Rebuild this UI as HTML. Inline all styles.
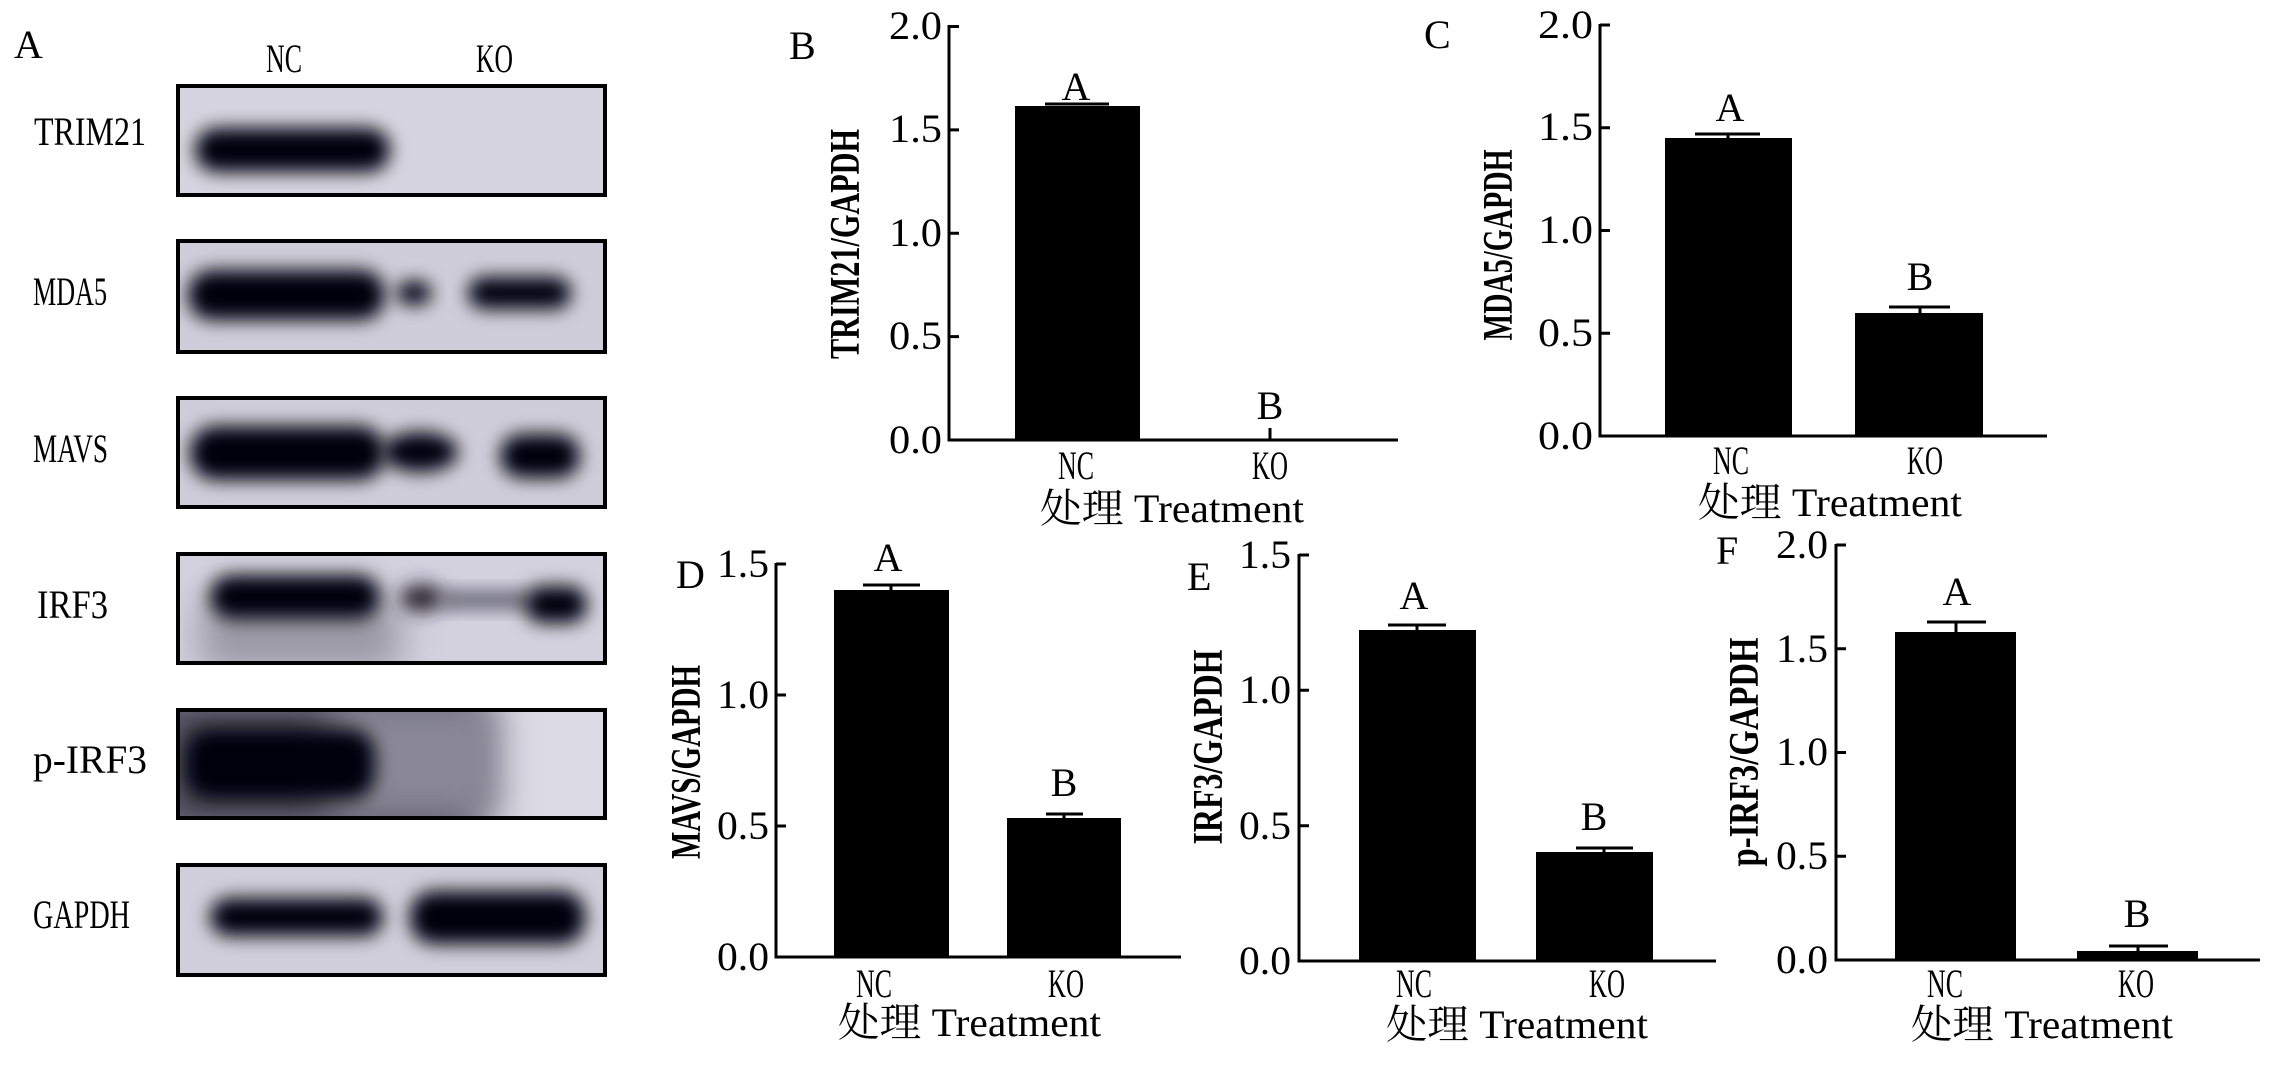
<!DOCTYPE html>
<html><head><meta charset="utf-8"><style>html,body{margin:0;padding:0;background:#fff}svg{display:block}</style></head>
<body>
<svg width="2276" height="1067" viewBox="0 0 2276 1067" xmlns="http://www.w3.org/2000/svg" font-family="'Liberation Serif','Noto Serif CJK SC',serif">
<defs>
<filter id="bl" x="-40%" y="-80%" width="180%" height="260%"><feGaussianBlur stdDeviation="9"/></filter>
<filter id="bl2" x="-30%" y="-60%" width="160%" height="220%"><feGaussianBlur stdDeviation="18"/></filter>
<clipPath id="c1"><rect x="178" y="86" width="427" height="109"/></clipPath>
<clipPath id="c2"><rect x="178" y="241" width="427" height="111"/></clipPath>
<clipPath id="c3"><rect x="178" y="398" width="427" height="109"/></clipPath>
<clipPath id="c4"><rect x="178" y="554" width="427" height="109"/></clipPath>
<clipPath id="c5"><rect x="178" y="710" width="427" height="108"/></clipPath>
<clipPath id="c6"><rect x="178" y="865" width="427" height="110"/></clipPath>
</defs>
<rect width="2276" height="1067" fill="#fff"/>

<!-- Panel A -->
<g font-size="40">
<text x="14" y="58">A</text>
<text x="266" y="72" textLength="36" lengthAdjust="spacingAndGlyphs">NC</text>
<text x="476" y="72" textLength="37" lengthAdjust="spacingAndGlyphs">KO</text>
<text x="34" y="145" textLength="112" lengthAdjust="spacingAndGlyphs">TRIM21</text>
<text x="33" y="305" textLength="74" lengthAdjust="spacingAndGlyphs">MDA5</text>
<text x="33" y="462" textLength="75" lengthAdjust="spacingAndGlyphs">MAVS</text>
<text x="37" y="618" textLength="71" lengthAdjust="spacingAndGlyphs">IRF3</text>
<text x="33" y="773" textLength="114" lengthAdjust="spacingAndGlyphs">p-IRF3</text>
<text x="33" y="928" textLength="97" lengthAdjust="spacingAndGlyphs">GAPDH</text>
</g>

<g clip-path="url(#c1)"><rect x="178" y="86" width="427" height="109" fill="#d6d4e0"/>
<rect x="195" y="128" width="195" height="44" rx="22" fill="#050308" filter="url(#bl)"/></g>
<rect x="178" y="86" width="427" height="109" fill="none" stroke="#000" stroke-width="4"/>

<g clip-path="url(#c2)"><rect x="178" y="241" width="427" height="111" fill="#cfcdda"/>
<rect x="188" y="270" width="197" height="50" rx="24" fill="#050308" filter="url(#bl)"/>
<ellipse cx="414" cy="293" rx="18" ry="12" fill="#050308" filter="url(#bl)"/>
<rect x="468" y="277" width="103" height="32" rx="16" fill="#050308" filter="url(#bl)"/></g>
<rect x="178" y="241" width="427" height="111" fill="none" stroke="#000" stroke-width="4"/>

<g clip-path="url(#c3)"><rect x="178" y="398" width="427" height="109" fill="#cfcdda"/>
<rect x="190" y="426" width="195" height="54" rx="26" fill="#050308" filter="url(#bl)"/>
<ellipse cx="420" cy="452" rx="38" ry="20" fill="#050308" filter="url(#bl)"/>
<rect x="500" y="434" width="80" height="44" rx="22" fill="#050308" filter="url(#bl)"/></g>
<rect x="178" y="398" width="427" height="109" fill="none" stroke="#000" stroke-width="4"/>

<g clip-path="url(#c4)"><rect x="178" y="554" width="427" height="109" fill="#d3d1de"/>
<rect x="200" y="600" width="200" height="70" fill="#9a98a4" filter="url(#bl2)"/>
<rect x="210" y="575" width="170" height="44" rx="22" fill="#050308" filter="url(#bl)"/>
<ellipse cx="422" cy="598" rx="22" ry="14" fill="#2a2832" filter="url(#bl)"/>
<rect x="440" y="592" width="90" height="16" fill="#5a5866" filter="url(#bl)"/>
<rect x="525" y="586" width="62" height="37" rx="18" fill="#050308" filter="url(#bl)"/></g>
<rect x="178" y="554" width="427" height="109" fill="none" stroke="#000" stroke-width="4"/>

<g clip-path="url(#c5)"><rect x="178" y="710" width="427" height="108" fill="#dcdae5"/>
<rect x="150" y="690" width="330" height="150" fill="#4c4a58" filter="url(#bl2)"/>
<rect x="330" y="700" width="170" height="120" fill="#8a8896" filter="url(#bl2)"/>
<rect x="185" y="729" width="190" height="70" rx="25" fill="#050308" filter="url(#bl)"/></g>
<rect x="178" y="710" width="427" height="108" fill="none" stroke="#000" stroke-width="4"/>

<g clip-path="url(#c6)"><rect x="178" y="865" width="427" height="110" fill="#d0cedb"/>
<rect x="210" y="898" width="173" height="38" rx="19" fill="#050308" filter="url(#bl)"/>
<rect x="410" y="891" width="175" height="53" rx="24" fill="#050308" filter="url(#bl)"/></g>
<rect x="178" y="865" width="427" height="110" fill="none" stroke="#000" stroke-width="4"/>

<!-- Panel B -->
<g font-size="40">
<text x="789" y="59">B</text>
<g stroke="#000" stroke-width="3" fill="none">
<path d="M949 25 V440 H1398"/>
<path d="M949 26.5h10M949 129.9h10M949 233.3h10M949 336.6h10"/>
<path d="M1270 428 V440"/>
</g>
<rect x="1015" y="106" width="125" height="334" fill="#000"/>
<path d="M1045 104 H1109" stroke="#000" stroke-width="3"/>
<g text-anchor="end">
<text x="942" y="39" textLength="53" lengthAdjust="spacingAndGlyphs">2.0</text>
<text x="942" y="142" textLength="53" lengthAdjust="spacingAndGlyphs">1.5</text>
<text x="942" y="246" textLength="53" lengthAdjust="spacingAndGlyphs">1.0</text>
<text x="942" y="349" textLength="53" lengthAdjust="spacingAndGlyphs">0.5</text>
<text x="942" y="453" textLength="53" lengthAdjust="spacingAndGlyphs">0.0</text>
</g>
<g text-anchor="middle">
<text x="1076" y="100">A</text><text x="1270" y="419">B</text>
<text x="1076" y="479" textLength="36" lengthAdjust="spacingAndGlyphs">NC</text>
<text x="1270" y="479" textLength="36" lengthAdjust="spacingAndGlyphs">KO</text>
</g>
<text x="1040" y="522" textLength="264" lengthAdjust="spacingAndGlyphs">处理 Treatment</text>
<text x="845" y="258" transform="rotate(-90 845 244)" text-anchor="middle" font-weight="bold" font-size="42" textLength="230" lengthAdjust="spacingAndGlyphs">TRIM21/GAPDH</text>
</g>

<!-- Panel C -->
<g font-size="40">
<text x="1424" y="48">C</text>
<g stroke="#000" stroke-width="3" fill="none">
<path d="M1600 24 V436 H2047"/>
<path d="M1600 25h10M1600 127.75h10M1600 230.5h10M1600 333.25h10"/>
<path d="M1728 138V134M1695 134H1760M1920 313V307M1889 307H1950"/>
</g>
<rect x="1665" y="138" width="127" height="298" fill="#000"/>
<rect x="1855" y="313" width="128" height="123" fill="#000"/>
<g text-anchor="end">
<text x="1593" y="38" textLength="55" lengthAdjust="spacingAndGlyphs">2.0</text>
<text x="1593" y="140" textLength="55" lengthAdjust="spacingAndGlyphs">1.5</text>
<text x="1593" y="243" textLength="55" lengthAdjust="spacingAndGlyphs">1.0</text>
<text x="1593" y="346" textLength="55" lengthAdjust="spacingAndGlyphs">0.5</text>
<text x="1593" y="449" textLength="55" lengthAdjust="spacingAndGlyphs">0.0</text>
</g>
<g text-anchor="middle">
<text x="1730" y="121">A</text><text x="1920" y="290">B</text>
<text x="1731" y="474" textLength="36" lengthAdjust="spacingAndGlyphs">NC</text>
<text x="1925" y="474" textLength="36" lengthAdjust="spacingAndGlyphs">KO</text>
</g>
<text x="1698" y="516" textLength="264" lengthAdjust="spacingAndGlyphs">处理 Treatment</text>
<text x="1498" y="259" transform="rotate(-90 1498 245)" text-anchor="middle" font-weight="bold" font-size="42" textLength="191" lengthAdjust="spacingAndGlyphs">MDA5/GAPDH</text>
</g>

<!-- Panel D -->
<g font-size="40">
<text x="676" y="588">D</text>
<g stroke="#000" stroke-width="3" fill="none">
<path d="M776 563 V957 H1181"/>
<path d="M776 564h10M776 695h10M776 826h10"/>
<path d="M891 590V585M863 585H920M1064 818V814M1046 814H1083"/>
</g>
<rect x="834" y="590" width="115" height="367" fill="#000"/>
<rect x="1007" y="818" width="114" height="139" fill="#000"/>
<g text-anchor="end">
<text x="769" y="577" textLength="52" lengthAdjust="spacingAndGlyphs">1.5</text>
<text x="769" y="708" textLength="52" lengthAdjust="spacingAndGlyphs">1.0</text>
<text x="769" y="839" textLength="52" lengthAdjust="spacingAndGlyphs">0.5</text>
<text x="769" y="970" textLength="52" lengthAdjust="spacingAndGlyphs">0.0</text>
</g>
<g text-anchor="middle">
<text x="888" y="571">A</text><text x="1064" y="796">B</text>
<text x="874" y="997" textLength="36" lengthAdjust="spacingAndGlyphs">NC</text>
<text x="1066" y="997" textLength="36" lengthAdjust="spacingAndGlyphs">KO</text>
</g>
<text x="838" y="1036" textLength="263" lengthAdjust="spacingAndGlyphs">处理 Treatment</text>
<text x="686" y="776" transform="rotate(-90 686 762)" text-anchor="middle" font-weight="bold" font-size="42" textLength="194" lengthAdjust="spacingAndGlyphs">MAVS/GAPDH</text>
</g>

<!-- Panel E -->
<g font-size="40">
<text x="1187" y="590">E</text>
<g stroke="#000" stroke-width="3" fill="none">
<path d="M1299 554 V961 H1716"/>
<path d="M1299 555h10M1299 690.3h10M1299 825.7h10"/>
<path d="M1417 630V625M1388 625H1446M1604 852V848M1576 848H1633"/>
</g>
<rect x="1359" y="630" width="117" height="331" fill="#000"/>
<rect x="1536" y="852" width="117" height="109" fill="#000"/>
<g text-anchor="end">
<text x="1291" y="568" textLength="52" lengthAdjust="spacingAndGlyphs">1.5</text>
<text x="1291" y="703" textLength="52" lengthAdjust="spacingAndGlyphs">1.0</text>
<text x="1291" y="839" textLength="52" lengthAdjust="spacingAndGlyphs">0.5</text>
<text x="1291" y="974" textLength="52" lengthAdjust="spacingAndGlyphs">0.0</text>
</g>
<g text-anchor="middle">
<text x="1414" y="609">A</text><text x="1594" y="830">B</text>
<text x="1414" y="997" textLength="36" lengthAdjust="spacingAndGlyphs">NC</text>
<text x="1607" y="997" textLength="36" lengthAdjust="spacingAndGlyphs">KO</text>
</g>
<text x="1386" y="1038" textLength="262" lengthAdjust="spacingAndGlyphs">处理 Treatment</text>
<text x="1208" y="761" transform="rotate(-90 1208 747)" text-anchor="middle" font-weight="bold" font-size="42" textLength="195" lengthAdjust="spacingAndGlyphs">IRF3/GAPDH</text>
</g>

<!-- Panel F -->
<g font-size="40">
<text x="1716" y="564">F</text>
<g stroke="#000" stroke-width="3" fill="none">
<path d="M1836 544 V960 H2260"/>
<path d="M1836 545h10M1836 648.75h10M1836 752.5h10M1836 856.25h10"/>
<path d="M1956 632V622M1927 622H1986M2138 951V946M2109 946H2168"/>
</g>
<rect x="1895" y="632" width="121" height="328" fill="#000"/>
<rect x="2077" y="951" width="121" height="9" fill="#000"/>
<g text-anchor="end">
<text x="1828" y="558" textLength="52" lengthAdjust="spacingAndGlyphs">2.0</text>
<text x="1828" y="662" textLength="52" lengthAdjust="spacingAndGlyphs">1.5</text>
<text x="1828" y="765" textLength="52" lengthAdjust="spacingAndGlyphs">1.0</text>
<text x="1828" y="869" textLength="52" lengthAdjust="spacingAndGlyphs">0.5</text>
<text x="1828" y="973" textLength="52" lengthAdjust="spacingAndGlyphs">0.0</text>
</g>
<g text-anchor="middle">
<text x="1957" y="605">A</text><text x="2137" y="927">B</text>
<text x="1945" y="997" textLength="36" lengthAdjust="spacingAndGlyphs">NC</text>
<text x="2136" y="997" textLength="36" lengthAdjust="spacingAndGlyphs">KO</text>
</g>
<text x="1911" y="1038" textLength="262" lengthAdjust="spacingAndGlyphs">处理 Treatment</text>
<text x="1744" y="766" transform="rotate(-90 1744 752)" text-anchor="middle" font-weight="bold" font-size="42" textLength="229" lengthAdjust="spacingAndGlyphs">p-IRF3/GAPDH</text>
</g>
</svg>
</body></html>
